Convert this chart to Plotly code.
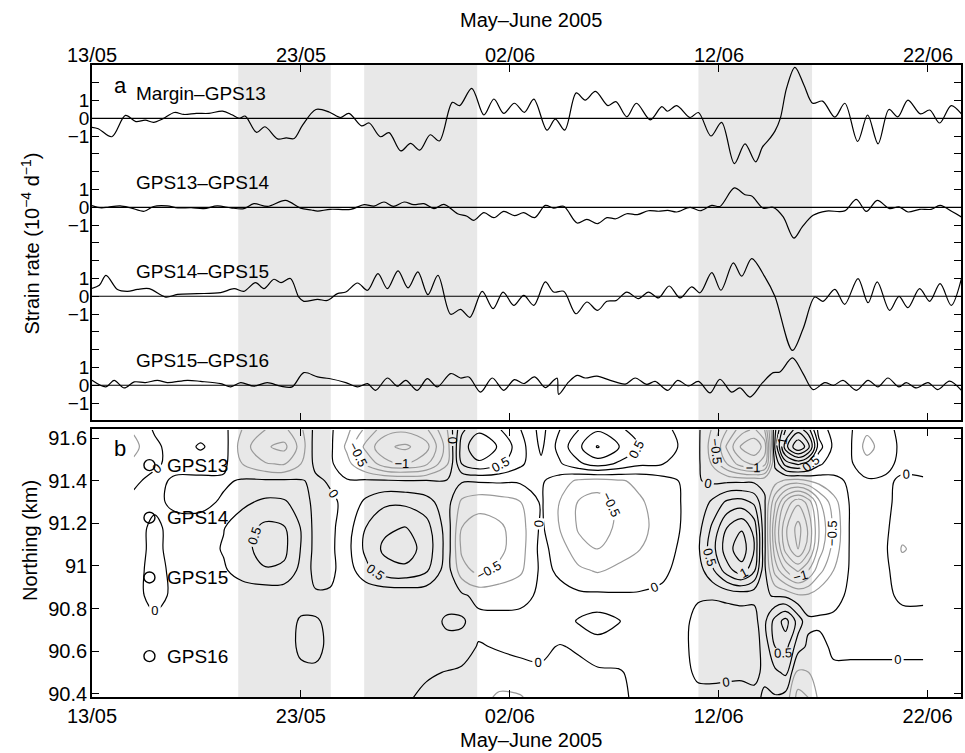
import numpy as np
import plotly.graph_objects as go

FONT = "Liberation Sans, Arial, Helvetica, sans-serif"

# ---------------- time axis (days after 13 May 2005, 00:00) ----------------
date_ticks = [0, 10, 20, 30, 40]
date_labels = ["13/05", "23/05", "02/06", "12/06", "22/06"]
day_span = [0.0, 41.6]

# shaded periods (days)
band_start = [7.0, 13.03, 29.03]
band_end = [11.43, 18.44, 34.47]

# ---------------- panel a: strain rate between station pairs ----------------
pair_names = ["Margin–GPS13", "GPS13–GPS14", "GPS14–GPS15", "GPS15–GPS16"]
pair_offsets = [15, 10, 5, 0]

margin_gps13_t = [0, 0.3, 0.95, 1.6, 2.1, 2.55, 2.95, 3.38, 3.95, 4.4, 5.0, 5.6, 6.25, 6.7, 7.05,
                  7.33, 7.88, 8.28, 8.88, 9.3, 9.68, 10.08, 10.72, 11.35, 11.88, 12.3, 12.9, 13.27,
                  13.8, 14.22, 14.78, 15.25, 15.69, 16.19, 16.63, 17.25, 17.6, 18.18, 18.76, 19.24,
                  19.71, 20.22, 20.7, 21.15, 21.78, 22.18, 22.63, 23.18, 23.61, 24.1, 24.7, 25.08,
                  25.6, 26.06, 26.73, 27.28, 27.55, 27.99, 28.63, 29.03, 29.63, 30.14, 30.75, 31.26,
                  31.77, 32.1, 32.4, 32.7, 32.95, 33.25, 33.65, 34.08, 34.5, 34.97, 35.56, 36.04,
                  36.65, 37.13, 37.63, 38.15, 38.58, 39.06, 39.66, 40.1, 40.58, 41.13, 41.62]
margin_gps13_v = [-0.5, -0.58, -1.03, 0.17, -0.18, -0.1, -0.22, -0.03, 0.33, 0.22, 0.28, 0.28, 0.41,
                  0.2, 0.0, 0.13, -0.79, -0.47, -1.15, -1.1, -1.13, -0.38, 0.5, 0.36, 0.05, 0.28,
                  -0.42, -0.26, -1.03, -0.8, -1.83, -1.41, -1.78, -0.92, -1.27, 0.9, 0.72, 1.69, 0.19,
                  1.09, 0.28, 0.85, 0.34, 1.08, -0.66, -0.04, -0.66, 1.43, 1.03, 1.52, 0.72, 0.94,
                  0.09, 0.85, -0.08, 0.66, 0.4, 0.72, 0.05, 0.33, -0.99, -0.22, -2.54, -1.43, -2.44,
                  -1.6, -1.2, -0.7, 0.0, 1.7, 2.87, 1.88, 0.85, 0.97, 0.07, 0.85, -1.3, 0.19, -1.43,
                  0.5, 0.09, 1.03, 0.25, 0.47, -0.26, 0.72, 0.25]

gps13_14_t = [0, 0.45, 0.8, 1.35, 1.85, 2.5, 2.95, 3.6, 4.1, 4.75, 5.35, 6.0, 6.65, 7.27, 7.75, 8.4,
              9.26, 9.98, 10.5, 10.8, 11.4, 12.39, 13.03, 13.5, 13.98, 14.43, 14.94, 15.4, 15.89,
              16.37, 16.85, 17.5, 17.95, 18.28, 18.76, 19.24, 19.71, 20.22, 20.67, 21.19, 21.7,
              22.1, 22.58, 23.22, 23.69, 24.2, 24.65, 25.08, 25.6, 26.11, 26.64, 27.12, 27.56,
              27.99, 28.63, 29.11, 29.67, 30.06, 30.75, 31.26, 31.58, 32.13, 32.61, 33.09, 33.6,
              34.0, 34.52, 35.16, 36.03, 36.59, 37.07, 37.59, 38.18, 38.63, 39.06, 39.62, 40.17,
              40.6, 41.21, 41.62]
gps13_14_v = [0.1, -0.03, 0.02, 0.08, -0.03, -0.22, 0.05, 0.08, -0.03, -0.02, -0.07, 0.08, -0.03,
              -0.07, 0.21, 0.05, 0.39, -0.04, -0.15, -0.21, -0.11, -0.11, 0.15, 0.07, 0.3, 0.05,
              0.3, 0.15, 0.21, -0.07, 0.17, -0.36, -0.5, -0.73, -0.3, -0.58, -0.23, -0.47, -0.3,
              -0.58, 0.11, -0.04, 0.06, -0.88, -0.68, -0.92, -0.58, -0.64, -0.36, -0.41, -0.19,
              -0.22, -0.17, -0.26, 0.0, -0.19, 0.11, 0.05, 1.09, 0.71, 0.64, -0.04, 0.0, -0.54,
              -1.73, -1.1, -0.45, -0.21, -0.2, 0.45, -0.23, 0.39, -0.07, 0.03, -0.26, -0.11, -0.11,
              0.11, -0.26, -0.54]

gps14_15_t = [0, 0.35, 0.67, 1.22, 1.7, 2.18, 2.74, 3.53, 4.09, 5.04, 6.16, 6.8, 7.27, 7.83, 8.23,
              8.71, 9.05, 9.5, 9.9, 10.14, 10.8, 11.27, 11.75, 12.15, 12.71, 13.19, 13.69, 14.14,
              14.65, 15.13, 15.6, 16.08, 16.56, 17.17, 17.64, 18.09, 18.68, 19.2, 19.68, 20.19,
              20.67, 21.15, 21.7, 22.1, 22.58, 23.17, 23.69, 24.2, 24.65, 25.08, 25.6, 26.16,
              26.64, 27.12, 27.63, 28.15, 28.71, 29.11, 29.67, 30.11, 30.7, 31.1, 31.58, 32.21,
              32.69, 33.53, 34.04, 34.6, 34.99, 35.56, 36.03, 36.67, 37.15, 37.59, 38.18, 38.63,
              39.06, 39.62, 40.1, 40.6, 41.13, 41.62]
gps14_15_v = [0.45, 0.62, 1.18, 0.38, 0.28, 0.39, 0.43, -0.04, 0.11, 0.15, 0.21, 0.43, 0.28, 0.77,
              0.43, 0.96, 0.77, 1.0, -0.05, -0.28, -0.17, -0.23, 0.15, 0.24, 0.75, 0.34, 1.28, 0.43,
              1.43, 0.47, 1.37, 0.09, 1.18, -1.01, -0.73, -1.18, 0.28, -0.69, 0.24, -0.51, 0.05,
              -0.51, 0.81, 0.24, 0.28, -0.98, -0.32, -0.79, -0.28, -0.24, 0.24, -0.13, 0.24, -0.09,
              0.58, -0.09, 0.53, 0.2, 1.33, 0.34, 1.88, 1.13, 2.12, 1.09, 0.0, -3.04, -1.82, -0.04,
              -0.28, 0.39, -0.45, 1.0, -0.36, 0.81, -0.79, 0.0, -0.64, 0.43, -0.28, 0.71, -0.51, 1.0]

gps15_16_t = [0, 0.67, 1.06, 1.54, 2.02, 2.55, 3.13, 3.6, 4.57, 5.2, 6.16, 6.64, 7.12, 7.75, 8.39,
              9.03, 9.58, 10.14, 10.8, 11.35, 12.15, 12.71, 13.19, 13.58, 14.14, 14.62, 15.02,
              15.57, 16.05, 16.53, 17.17, 17.64, 18.04, 18.6, 19.16, 19.71, 20.22, 20.67, 21.19,
              21.7, 22.1, 22.27, 22.34, 22.82, 23.22, 23.61, 24.17, 24.81, 25.53, 26.0, 26.56,
              26.96, 27.56, 28.04, 28.55, 29.03, 29.59, 30.06, 30.62, 31.02, 31.5, 32.1, 32.61,
              32.93, 33.53, 34.04, 34.52, 35.08, 35.5, 35.95, 36.59, 37.15, 37.63, 38.1, 38.63,
              38.98, 39.46, 40.02, 40.49, 41.05, 41.62]
gps15_16_v = [0.28, -0.09, 0.28, -0.15, 0.19, 0.15, 0.28, 0.15, 0.28, 0.22, 0.09, -0.09, 0.15,
              -0.05, 0.15, -0.05, -0.09, 0.71, 0.47, 0.38, 0.15, -0.09, 0.09, -0.28, 0.41, -0.05,
              0.28, -0.28, 0.38, -0.09, 0.66, 0.41, 0.47, -0.38, 0.41, -0.28, 0.32, 0.1, 0.47,
              -0.13, 0.28, 0.4, -0.51, 0.19, 0.56, 0.41, 0.51, 0.28, 0.07, 0.41, 0.05, 0.22, -0.28,
              0.28, -0.04, 0.22, -0.43, 0.34, -0.38, -0.15, -0.66, 0.15, 0.71, 0.75, 1.54, 0.66,
              -0.24, 0.15, 0.0, 0.28, -0.28, 0.28, -0.09, 0.41, -0.09, 0.15, -0.15, 0.15, -0.24,
              0.24, -0.28]

pair_times = [margin_gps13_t, gps13_14_t, gps14_15_t, gps15_16_t]
pair_values = [margin_gps13_v, gps13_14_v, gps14_15_v, gps15_16_v]

# ---------------- panel b: strain-rate field (northing x time) ----------------
station_names = ["GPS13", "GPS14", "GPS15", "GPS16"]
station_northing = [91.474, 91.227, 90.946, 90.576]

northing_km = [90.38, 90.50, 90.62, 90.74, 90.86, 90.98, 91.08, 91.18, 91.30, 91.40, 91.48, 91.56, 91.64]
northing_ticks = [90.4, 90.6, 90.8, 91.0, 91.2, 91.4, 91.6]
northing_labels = ["90.4", "90.6", "90.8", "91", "91.2", "91.4", "91.6"]
grid_days = [2.0, 3.0, 4.0, 5.2, 6.3, 7.2, 8.3, 9.2, 10.0, 10.7, 11.4, 12.2, 13.1, 14.0, 15.0, 16.0,
             17.0, 17.7, 18.5, 19.5, 20.5, 21.5, 22.4, 23.3, 24.2, 25.2, 26.2, 27.3, 28.3, 29.0,
             29.7, 30.4, 31.1, 31.7, 32.2, 32.7, 33.2, 33.8, 34.3, 34.8, 35.5, 36.3, 37.1, 38.0,
             38.8, 39.8]
# one profile per grid day, listed from the southern (90.38 km) to the northern (91.64 km) row
strain_profiles = [
    [0.05, 0.05, 0.04, 0.04, 0.03, 0.05, 0.06, 0.05, 0.04, -0.03, -0.2, -0.32, -0.22],
    [0.03, 0.03, 0.03, 0.02, -0.03, -0.05, -0.04, -0.03, 0.03, 0.05, -0.03, -0.06, 0.03],
    [0.03, 0.03, 0.03, 0.03, 0.02, 0.04, 0.06, 0.05, -0.03, -0.03, 0.06, 0.12, 0.08],
    [0.03, 0.03, 0.04, 0.04, 0.03, 0.1, 0.14, 0.12, -0.08, -0.06, 0.12, 0.28, 0.15],
    [0.03, 0.04, 0.05, 0.05, 0.06, 0.22, 0.27, 0.24, 0.04, -0.04, 0.06, 0.12, 0.08],
    [0.03, 0.04, 0.05, 0.05, 0.1, 0.36, 0.42, 0.38, 0.2, 0.03, -0.25, -0.38, -0.26],
    [0.03, 0.03, 0.03, 0.04, 0.08, 0.48, 0.6, 0.56, 0.3, 0.04, -0.48, -0.72, -0.5],
    [0.03, 0.05, 0.08, 0.06, 0.08, 0.45, 0.56, 0.52, 0.28, 0.04, -0.52, -0.82, -0.56],
    [0.05, 0.18, 0.32, 0.3, 0.06, 0.18, 0.24, 0.24, 0.14, 0.02, -0.25, -0.4, -0.3],
    [0.05, 0.2, 0.33, 0.3, 0.03, -0.08, -0.08, -0.08, -0.08, -0.05, 0.06, 0.12, 0.08],
    [0.03, 0.08, 0.18, 0.15, 0.03, -0.06, -0.06, -0.06, -0.05, 0.03, 0.04, 0.05, 0.04],
    [0.03, 0.03, 0.03, 0.03, 0.03, 0.12, 0.16, 0.13, 0.06, 0.02, -0.16, -0.3, -0.18],
    [0.03, 0.03, 0.04, 0.05, 0.05, 0.42, 0.56, 0.5, 0.3, 0.04, -0.52, -0.82, -0.56],
    [0.03, 0.03, 0.03, 0.03, 0.04, 0.65, 0.8, 0.7, 0.45, 0.04, -0.9, -1.2, -0.88],
    [0.03, 0.03, 0.03, 0.03, 0.04, 0.7, 0.86, 0.76, 0.45, 0.02, -1.0, -1.3, -0.95],
    [-0.05, 0.03, 0.05, 0.1, 0.06, 0.55, 0.66, 0.6, 0.35, 0.02, -0.8, -1.1, -0.8],
    [-0.1, -0.01, 0.15, 0.3, 0.1, 0.12, 0.15, 0.14, 0.1, 0.02, -0.28, -0.38, -0.26],
    [-0.12, -0.04, 0.12, 0.3, 0.05, -0.4, -0.55, -0.5, -0.3, 0.03, 0.5, 0.62, 0.45],
    [-0.15, -0.06, -0.02, 0.08, -0.08, -0.58, -0.7, -0.62, -0.4, 0.03, 0.7, 0.95, 0.7],
    [-0.3, -0.1, 0.02, 0.06, -0.08, -0.45, -0.56, -0.55, -0.36, 0.04, 0.55, 0.72, 0.52],
    [-0.28, -0.04, 0.03, 0.05, -0.05, -0.3, -0.36, -0.36, -0.26, 0.04, 0.3, 0.36, 0.26],
    [-0.1, -0.02, 0.03, 0.05, 0.03, 0.05, 0.08, 0.05, 0.03, 0.03, 0.05, -0.05, -0.08],
    [-0.05, -0.06, -0.01, 0.1, 0.05, -0.03, -0.12, -0.26, -0.26, -0.12, 0.22, 0.35, 0.25],
    [-0.03, -0.04, 0.02, 0.28, 0.05, -0.2, -0.42, -0.53, -0.52, -0.3, 0.45, 0.7, 0.5],
    [-0.03, -0.04, 0.15, 0.36, 0.05, -0.28, -0.5, -0.6, -0.62, -0.35, 0.62, 1.02, 0.72],
    [-0.03, -0.01, 0.06, 0.27, 0.03, -0.2, -0.36, -0.46, -0.44, -0.28, 0.46, 0.76, 0.55],
    [0.03, 0.03, 0.03, 0.06, 0.02, -0.1, -0.26, -0.3, -0.28, -0.2, 0.3, 0.5, 0.4],
    [0.03, 0.03, 0.03, 0.04, 0.03, -0.03, -0.1, -0.18, -0.15, -0.1, 0.26, 0.45, 0.35],
    [0.03, 0.03, 0.03, 0.04, 0.03, 0.05, 0.05, 0.03, 0.02, 0.03, 0.1, 0.18, 0.14],
    [0.03, -0.02, -0.05, -0.05, 0.02, 0.12, 0.2, 0.15, 0.06, 0.02, 0.05, 0.06, 0.05],
    [0.05, -0.04, -0.1, -0.1, 0.02, 0.45, 0.65, 0.55, 0.3, -0.05, -0.28, -0.38, -0.28],
    [0.1, -0.06, -0.14, -0.12, 0.05, 0.9, 1.15, 1.0, 0.55, -0.05, -0.75, -1.05, -0.75],
    [0.12, -0.06, -0.15, -0.12, 0.08, 1.15, 1.4, 1.22, 0.6, -0.05, -1.15, -1.55, -1.15],
    [0.05, -0.05, -0.12, -0.1, 0.06, 0.8, 1.0, 0.9, 0.45, -0.05, -1.3, -1.7, -1.3],
    [-0.03, 0.04, 0.1, 0.2, 0.03, 0.05, 0.05, 0.05, 0.03, -0.05, -1.1, -1.4, -1.0],
    [-0.03, 0.2, 0.5, 0.6, -0.02, -0.6, -0.9, -1.0, -0.7, -0.15, 0.05, 0.3, 0.2],
    [-0.1, 0.3, 0.6, 0.85, -0.05, -1.0, -1.6, -1.7, -1.3, -0.3, 0.6, 1.4, 1.0],
    [-0.6, -0.3, 0.1, 0.4, -0.2, -1.3, -2.0, -2.1, -1.7, -0.35, 0.8, 2.0, 1.4],
    [-0.5, -0.25, -0.05, 0.05, -0.2, -1.0, -1.6, -1.7, -1.4, -0.25, 0.6, 1.6, 1.1],
    [-0.2, -0.1, -0.05, 0.03, -0.1, -0.6, -0.9, -1.0, -0.8, -0.15, 0.3, 0.6, 0.4],
    [-0.05, -0.03, 0.03, 0.03, -0.05, -0.25, -0.4, -0.45, -0.35, -0.05, 0.1, 0.2, 0.15],
    [-0.03, -0.03, 0.03, 0.05, 0.03, 0.03, 0.03, 0.03, 0.03, 0.03, 0.03, 0.03, 0.03],
    [-0.03, -0.03, 0.03, 0.05, 0.03, 0.03, 0.03, 0.03, 0.03, 0.03, -0.15, -0.35, -0.2],
    [-0.03, -0.03, 0.03, 0.05, 0.03, 0.03, 0.03, 0.03, 0.03, 0.03, -0.05, -0.1, -0.05],
    [-0.03, -0.03, 0.03, 0.05, -0.03, -0.1, -0.28, -0.12, -0.05, -0.03, 0.05, 0.05, 0.05],
    [-0.03, -0.03, 0.03, 0.05, -0.03, -0.1, -0.12, -0.1, -0.05, -0.03, 0.1, 0.2, 0.15],
]
strain_field = np.array(strain_profiles).T  # rows = northing, columns = time

# ---------------- figure ----------------
fig = go.Figure()

# panel a: offset series
for t, v, off in zip(pair_times, pair_values, pair_offsets):
    fig.add_trace(go.Scatter(
        x=t, y=np.asarray(v) + off, mode="lines", xaxis="x", yaxis="y",
        line=dict(color="black", width=1.2, shape="spline", smoothing=0.9),
        hoverinfo="skip", showlegend=False))

# panel b: contours (black for >= 0, grey for < 0)
def contour_set(start, end, step, color, labelled):
    return go.Contour(
        x=grid_days, y=northing_km, z=strain_field, xaxis="x2", yaxis="y2",
        autocontour=False,
        contours=dict(start=start, end=end, size=step, coloring="none",
                      showlabels=labelled,
                      labelfont=dict(size=13, color="#000000", family=FONT)),
        line=dict(color=color, width=1.2, smoothing=1.0),
        showscale=False, hoverinfo="skip", showlegend=False)

fig.add_trace(contour_set(0.25, 0.75, 0.5, "black", False))
fig.add_trace(contour_set(1.25, 3.0, 0.25, "black", False))
fig.add_trace(contour_set(-0.75, -0.25, 0.5, "#9a9a9a", False))
fig.add_trace(contour_set(-3.0, -1.25, 0.25, "#9a9a9a", False))
fig.add_trace(contour_set(0.0, 1.0, 0.5, "black", True))
fig.add_trace(contour_set(-1.0, -0.5, 0.5, "#9a9a9a", True))

# station markers
fig.add_trace(go.Scatter(
    x=[2.75] * len(station_northing), y=station_northing, mode="markers",
    xaxis="x2", yaxis="y2",
    marker=dict(symbol="circle-open", size=11, color="black", line=dict(width=1.4)),
    hoverinfo="skip", showlegend=False))

# shaded periods, zero lines
shapes = []
for s, e in zip(band_start, band_end):
    for xr, yr in (("x", "y domain"), ("x2", "y2 domain")):
        shapes.append(dict(type="rect", xref=xr, yref=yr, x0=s, x1=e, y0=0, y1=1,
                           fillcolor="#e8e8e8", line=dict(width=0), layer="below"))
for off in pair_offsets:
    shapes.append(dict(type="line", xref="x domain", yref="y", x0=0, x1=1, y0=off, y1=off,
                       line=dict(color="black", width=1.1), layer="above"))

# text
annotations = []
for name, off in zip(pair_names, pair_offsets):
    annotations.append(dict(x=2.0, y=off + 1.38, xref="x", yref="y", text=name, showarrow=False,
                            xanchor="left", yanchor="middle", font=dict(size=19, family=FONT)))
for name, n in zip(station_names, station_northing):
    annotations.append(dict(x=3.5, y=n, xref="x2", yref="y2", text=name, showarrow=False,
                            xanchor="left", yanchor="middle", font=dict(size=19, family=FONT)))
# date labels along the top edge of panel a
for d, lab in zip(date_ticks, date_labels):
    annotations.append(dict(x=d, y=1.0166, xref="x", yref="paper", text=lab, showarrow=False,
                            xanchor="center", yanchor="middle", font=dict(size=20, family=FONT)))
annotations += [
    dict(x=0.98, y=16.84, xref="x", yref="y", text="a", showarrow=False, xanchor="left",
         yanchor="middle", font=dict(size=22, family=FONT)),
    dict(x=0.98, y=91.55, xref="x2", yref="y2", text="b", showarrow=False, xanchor="left",
         yanchor="middle", font=dict(size=22, family=FONT)),
    dict(x=0.505, y=1.071, xref="paper", yref="paper", text="May–June 2005", showarrow=False,
         xanchor="center", yanchor="middle", font=dict(size=20, family=FONT)),
    dict(x=0.505, y=-0.068, xref="paper", yref="paper", text="May–June 2005", showarrow=False,
         xanchor="center", yanchor="middle", font=dict(size=20, family=FONT)),
    dict(x=-0.0712, y=0.7176, xref="paper", yref="paper",
         text="Strain rate (10<sup>−4</sup> d<sup>−1</sup>)", showarrow=False, textangle=-90,
         xanchor="center", yanchor="middle", font=dict(size=20, family=FONT)),
    dict(x=-0.0712, y=0.247, xref="paper", yref="paper", text="Northing (km)", showarrow=False,
         textangle=-90, xanchor="center", yanchor="middle", font=dict(size=20, family=FONT)),
]

# panel a y ticks: labelled 1 / 0 / -1 around each baseline, unlabelled ticks at every unit
strain_tickvals = [off + k for off in pair_offsets for k in (1, 0, -1)]
strain_ticktext = ["1", "0", "−1"] * len(pair_offsets)

tick_style = dict(ticks="inside", ticklen=7, tickwidth=1.1, tickcolor="black")
axis_common = dict(showline=True, linecolor="black", linewidth=1.6, mirror="ticks",
                   showgrid=False, zeroline=False, **tick_style)
tick_font = dict(size=20, family=FONT, color="black")

fig.update_layout(
    width=965, height=753,
    margin=dict(l=92, r=2, t=65, b=56),
    paper_bgcolor="white", plot_bgcolor="white",
    font=dict(family=FONT, color="black"),
    showlegend=False,
    shapes=shapes, annotations=annotations,
    xaxis=dict(anchor="y", side="top", range=day_span, tickvals=date_ticks,
               showticklabels=False, **axis_common),
    yaxis=dict(anchor="x", domain=[0.4383, 1.0], range=[-1.95, 18.0],
               tickvals=strain_tickvals, ticktext=strain_ticktext,
               minor=dict(tick0=0, dtick=1, showgrid=False, **tick_style),
               tickfont=dict(size=19, family=FONT, color="black"), ticklabelstandoff=-3,
               **axis_common),
    xaxis2=dict(anchor="y2", side="bottom", range=day_span, tickvals=date_ticks,
                ticktext=date_labels, tickfont=tick_font, **axis_common),
    yaxis2=dict(anchor="x2", domain=[0.0, 0.4241], range=[90.384, 91.644],
                tickvals=northing_ticks, ticktext=northing_labels,
                tickfont=tick_font, ticklabelstandoff=-1, **axis_common),
)

fig.write_html("out.html")
